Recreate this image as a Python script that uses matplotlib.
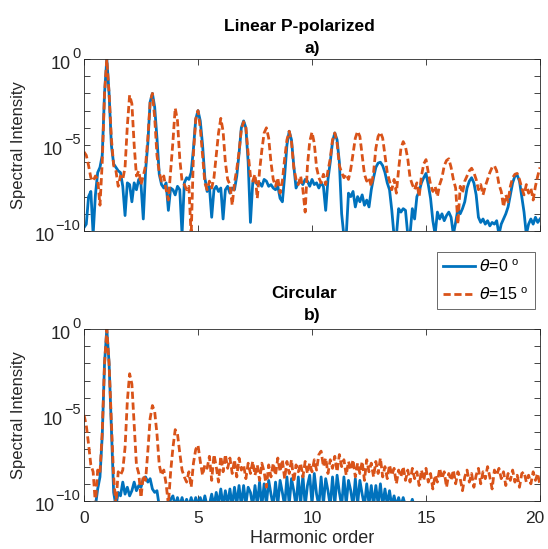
import matplotlib.pyplot as plt
import numpy as np

plt.rcParams['font.family'] = ['Liberation Sans', 'DejaVu Sans']

# harmonic order axis, sampled every 0.1
harmonic = np.linspace(0, 20, 201)

# log10 of spectral intensity
lin_theta0 = [
    -9.8, -9.6, -8.0, -7.7, -10.2, -7.9, -6.6, -6.3, -5.6, -2.0,
    0.0, -2.0, -5.0, -6.1, -6.3, -6.5, -6.6, -7.4, -9.1, -7.2,
    -7.3, -8.3, -7.2, -7.6, -7.0, -7.3, -9.3, -6.5, -4.9, -2.5,
    -2.0, -2.8, -4.6, -6.7, -7.3, -7.5, -7.2, -8.8, -7.5, -7.6,
    -7.9, -7.4, -7.6, -10.2, -7.2, -6.9, -7.0, -6.6, -5.2, -3.5,
    -3.0, -3.6, -5.0, -6.9, -7.7, -7.4, -9.2, -7.6, -7.4, -7.7,
    -7.5, -9.3, -7.6, -7.4, -7.8, -7.5, -7.6, -6.8, -5.5, -4.0,
    -3.6, -4.0, -6.0, -9.5, -7.2, -7.0, -7.3, -7.2, -7.4, -7.0,
    -7.1, -7.4, -7.3, -7.5, -7.6, -7.4, -8.1, -8.3, -6.8, -5.0,
    -4.2, -4.7, -6.2, -7.5, -7.2, -7.1, -7.3, -7.0, -7.1, -7.4,
    -7.0, -7.3, -7.2, -7.5, -7.2, -7.4, -8.8, -7.0, -6.0, -4.8,
    -4.3, -4.7, -6.0, -9.0, -10.3, -10.3, -7.8, -8.0, -7.7, -8.6,
    -8.0, -8.3, -7.9, -8.5, -8.2, -8.6, -7.6, -6.9, -6.3, -6.05,
    -6.0, -6.2, -6.6, -7.2, -7.6, -8.8, -10.3, -10.3, -8.7, -8.9,
    -8.7, -8.8, -10.2, -10.2, -8.7, -9.3, -8.0, -7.7, -7.2, -6.9,
    -6.65, -7.3, -8.1, -9.4, -10.2, -8.9, -9.3, -9.0, -9.4, -9.1,
    -8.9, -9.2, -10.2, -9.5, -8.7, -9.0, -8.7, -8.3, -7.5, -7.1,
    -6.9, -7.2, -7.9, -9.2, -9.5, -9.3, -9.6, -9.4, -9.7, -9.5,
    -9.6, -9.4, -10.2, -9.6, -9.3, -9.0, -8.6, -7.9, -7.2, -6.8,
    -6.75, -7.1, -8.0, -8.9, -10.2, -9.6, -9.3, -9.6, -9.2, -9.5,
    -9.3,
]
lin_theta15 = [
    -5.4, -5.6, -6.2, -6.9, -7.1, -6.8, -7.0, -8.5, -6.0, -2.0,
    0.0, -2.0, -4.6, -6.2, -6.5, -7.4, -6.8, -7.0, -6.3, -3.9,
    -2.1, -2.6, -5.0, -6.8, -6.5, -7.3, -6.8, -6.2, -4.6, -2.5,
    -2.0, -3.4, -5.6, -6.6, -7.1, -6.8, -7.6, -8.2, -6.5, -4.8,
    -2.85, -3.6, -5.8, -7.1, -7.3, -7.6, -7.4, -10.3, -5.5, -3.5,
    -3.0, -4.0, -5.6, -7.2, -7.6, -7.1, -7.5, -6.9, -5.6, -4.3,
    -3.45, -4.2, -6.0, -7.0, -7.3, -8.5, -7.2, -6.4, -5.4, -4.1,
    -3.65, -4.0, -5.5, -6.8, -7.1, -6.7, -8.1, -6.5, -5.3, -4.3,
    -4.0, -4.6, -6.0, -7.0, -7.4, -6.9, -7.8, -7.1, -5.8, -4.7,
    -4.2, -4.8, -6.3, -7.0, -7.3, -6.8, -7.6, -8.9, -6.2, -4.8,
    -4.25, -4.9, -6.3, -6.9, -7.2, -6.7, -7.3, -6.5, -5.8, -4.7,
    -4.3, -4.9, -6.2, -6.6, -6.9, -6.7, -7.0, -6.4, -5.5, -4.6,
    -4.2, -4.5, -5.6, -6.7, -7.1, -6.9, -7.4, -6.6, -5.2, -4.5,
    -4.25, -4.6, -5.6, -6.6, -7.1, -7.6, -7.0, -7.8, -6.4, -5.2,
    -4.8, -5.1, -5.8, -6.9, -7.3, -7.6, -7.2, -8.0, -6.8, -6.1,
    -5.85, -6.6, -7.3, -7.7, -7.4, -8.0, -7.3, -6.9, -6.2, -5.9,
    -5.8, -6.3, -7.0, -7.5, -9.6, -7.4, -7.8, -7.1, -6.8, -6.5,
    -6.35, -6.6, -7.0, -7.6, -7.3, -7.9, -7.4, -7.0, -6.6, -6.3,
    -6.2, -6.5, -7.3, -7.7, -8.6, -7.9, -8.3, -7.4, -6.9, -6.7,
    -6.65, -7.0, -7.5, -7.9, -7.3, -7.8, -7.5, -8.2, -7.4, -6.8,
    -6.3,
]
circ_theta0 = [
    -10.5, -10.5, -10.5, -10.5, -10.5, -10.3, -9.3, -8.6, -6.2, -2.0,
    0.0, -2.0, -5.8, -9.5, -10.3, -9.5, -9.7, -8.9, -9.6, -9.2,
    -9.7, -9.4, -8.9, -9.4, -9.1, -9.2, -8.7, -8.6, -8.9, -8.7,
    -9.3, -9.5, -9.4, -10.3, -10.4, -10.4, -10.3, -10.4, -9.9, -9.7,
    -10.3, -9.8, -10.3, -9.8, -10.3, -9.9, -10.3, -9.8, -10.3, -9.8,
    -10.2, -9.8, -10.3, -9.7, -10.3, -10.2, -9.6, -10.3, -9.5, -10.2,
    -9.3, -10.3, -9.4, -10.2, -9.3, -10.3, -9.2, -10.2, -9.1, -10.3,
    -9.1, -10.2, -9.2, -9.5, -10.3, -9.1, -10.2, -8.9, -10.3, -9.0,
    -10.2, -8.8, -9.6, -10.3, -8.9, -10.2, -8.8, -9.5, -10.3, -8.6,
    -10.2, -8.7, -9.4, -10.3, -8.6, -10.2, -8.5, -10.3, -9.1, -8.5,
    -10.2, -8.4, -9.6, -10.3, -8.6, -10.2, -8.7, -9.4, -10.3, -8.6,
    -10.2, -8.5, -9.5, -10.3, -8.6, -10.2, -8.8, -9.4, -10.3, -8.7,
    -10.2, -8.8, -9.6, -10.3, -9.0, -10.2, -9.1, -10.3, -9.1, -10.2,
    -9.0, -10.3, -9.3, -10.2, -9.4, -10.3, -9.7, -10.3, -9.8, -10.3,
    -9.8, -10.3, -10.4, -10.3, -9.9, -10.4, -10.4, -10.3, -10.1, -10.4,
    -10.5, -10.5, -10.5, -10.5, -10.5, -10.5, -10.5, -10.5, -10.5, -10.5,
    -10.5, -10.5, -10.5, -10.5, -10.5, -10.5, -10.5, -10.5, -10.5, -10.5,
    -10.5, -10.5, -10.5, -10.5, -10.5, -10.5, -10.5, -10.5, -10.5, -10.5,
    -10.5, -10.5, -10.5, -10.5, -10.5, -10.5, -10.5, -10.5, -10.5, -10.5,
    -10.5, -10.5, -10.5, -10.5, -10.5, -10.5, -10.5, -10.5, -10.5, -10.5,
    -10.5,
]
circ_theta15 = [
    -5.0, -5.6, -6.7, -7.9, -8.3, -10.2, -8.2, -8.4, -6.0, -2.0,
    0.0, -2.0, -5.4, -8.6, -10.2, -8.3, -8.5, -8.2, -6.9, -4.2,
    -2.6, -3.2, -5.5, -7.9, -8.4, -9.8, -8.5, -8.8, -7.1, -5.2,
    -4.45, -4.8, -6.1, -7.9, -8.5, -8.2, -9.0, -10.2, -8.3, -6.9,
    -5.85, -6.1, -7.2, -8.2, -8.6, -8.9, -8.3, -9.2, -7.8, -7.0,
    -6.75, -7.7, -8.5, -7.9, -8.1, -7.4, -8.8, -7.3, -8.0, -8.9,
    -7.4, -8.3, -7.3, -8.1, -7.5, -8.4, -7.6, -8.6, -7.5, -8.2,
    -7.9, -8.7, -7.8, -8.4, -7.7, -8.5, -7.9, -8.8, -7.8, -8.3,
    -9.2, -7.9, -8.6, -7.8, -8.5, -7.5, -8.3, -7.6, -8.7, -7.7,
    -8.4, -7.6, -8.9, -7.9, -8.3, -7.8, -8.6, -7.7, -8.4, -7.8,
    -8.3, -7.6, -8.2, -7.3, -7.1, -8.0, -7.5, -8.4, -7.6, -8.1,
    -7.4, -8.3, -7.3, -8.0, -7.6, -8.5, -7.7, -8.2, -7.6, -8.6,
    -7.8, -8.4, -7.7, -8.8, -7.6, -8.3, -7.8, -8.6, -7.7, -8.4,
    -7.5, -8.6, -8.0, -8.7, -7.9, -8.5, -8.1, -9.0, -8.2, -8.6,
    -8.0, -8.8, -8.2, -8.9, -8.1, -8.7, -8.3, -9.1, -8.2, -8.8,
    -8.1, -8.9, -8.4, -9.3, -8.5, -8.9, -8.1, -8.7, -8.3, -9.2,
    -8.4, -8.8, -8.2, -9.0, -8.3, -8.7, -9.4, -8.6, -8.2, -8.9,
    -8.4, -9.2, -8.5, -8.1, -9.0, -8.3, -8.7, -8.0, -8.6, -9.3,
    -8.2, -8.5, -8.1, -8.7, -8.3, -9.1, -8.4, -8.8, -8.2, -8.9,
    -8.5, -9.2, -8.4, -8.3, -8.9, -8.5, -9.0, -8.3, -8.8, -8.4,
    -9.1,
]

title_lines = [('Linear P-polarized', 'a)'), ('Circular', 'b)')]
legend_labels = [r'$\theta$=0 $^{\mathregular{o}}$', r'$\theta$=15 $^{\mathregular{o}}$']
x_ticks = [0, 5, 10, 15, 20]
x_ticklabels = ['0', '5', '10', '15', '20']
decade_exps = np.arange(-10, 1)
labelled_exps = [0, -5, -10]

blue = '#0072BD'
orange = '#D95319'
dark = '#262626'


def decade_labels(ax):
    # MATLAB-style 10^n labels: a big "10" with a raised exponent
    for e in labelled_exps:
        sup = ax.annotate(str(e).replace('-', '\u2212'), xy=(0, 10.0 ** e),
                          xycoords=('axes fraction', 'data'), xytext=(-2.5, 0.5),
                          textcoords='offset points', ha='right', va='baseline',
                          fontsize=10.5, color=dark)
        ax.annotate('10', xy=(0, 10.0 ** e), xycoords=(sup, 'data'), xytext=(-1, -7.5),
                    textcoords='offset points', ha='right', va='baseline',
                    fontsize=13, color=dark)


fig = plt.figure(figsize=(5.48, 5.49), dpi=100)
ax_top = fig.add_axes([0.1533, 0.5792, 0.8321, 0.3133])
ax_bot = fig.add_axes([0.1533, 0.0874, 0.8321, 0.3133])

panels = [(ax_top, lin_theta0, lin_theta15), (ax_bot, circ_theta0, circ_theta15)]
title_gap = [4.3, 6.5]
for i, (ax, s0, s15) in enumerate(panels):
    ax.semilogy(harmonic, 10.0 ** np.array(s0), color=blue, lw=2.0, label=legend_labels[0])
    ax.semilogy(harmonic, 10.0 ** np.array(s15), color=orange, lw=2.0, ls='--',
                dashes=(2.6, 1.3), label=legend_labels[1])
    ax.set_xlim(0, 20)
    ax.set_ylim(1e-10, 1e0)
    ax.set_xticks(x_ticks)
    ax.set_yticks(10.0 ** decade_exps)
    ax.set_yticklabels([])
    ax.minorticks_off()
    ax.tick_params(direction='in', top=True, right=True, length=4, width=0.6,
                   colors=dark, labelsize=12.5, pad=7)
    for sp in ax.spines.values():
        sp.set_color(dark)
        sp.set_linewidth(0.6)
    decade_labels(ax)
    ax.set_ylabel('Spectral Intensity', fontsize=12, color=dark)
    ax.yaxis.set_label_coords(-0.127, 0.5)

    line1, line2 = title_lines[i]
    shift = -9 if i == 0 else -6
    ax.annotate(line1, xy=(0.5, 1), xycoords='axes fraction', xytext=(shift, title_gap[i] + 16),
                textcoords='offset points', ha='center', va='baseline',
                fontsize=12.5, fontweight='bold', color='black')
    ax.annotate(line2, xy=(0.5, 1), xycoords='axes fraction', xytext=(0, title_gap[i]),
                textcoords='offset points', ha='center', va='baseline',
                fontsize=12.5, fontweight='bold', color='black')

ax_top.set_xticklabels([])
# the last label is nudged left so it stays inside the figure, as MATLAB does
ax_bot.set_xticklabels(x_ticklabels[:-1] + [''])
ax_bot.annotate(x_ticklabels[-1], xy=(1, 0), xycoords='axes fraction', xytext=(-4, -7),
                textcoords='offset points', ha='center', va='top', fontsize=12.5, color=dark)
ax_bot.set_xlabel('Harmonic order', fontsize=13, color=dark)
ax_bot.xaxis.set_label_coords(0.5, -0.166)

handles, labels = ax_top.get_legend_handles_labels()
leg = fig.legend(handles, labels, loc='upper right', bbox_to_anchor=(535 / 548, 1 - 252 / 549),
                 borderaxespad=0, fontsize=11.5, frameon=True, fancybox=False, edgecolor=dark,
                 handlelength=2.0, handletextpad=0.25, borderpad=0.4, labelspacing=0.7)
leg.get_frame().set_linewidth(0.6)

fig.savefig('out.png', dpi=100)
